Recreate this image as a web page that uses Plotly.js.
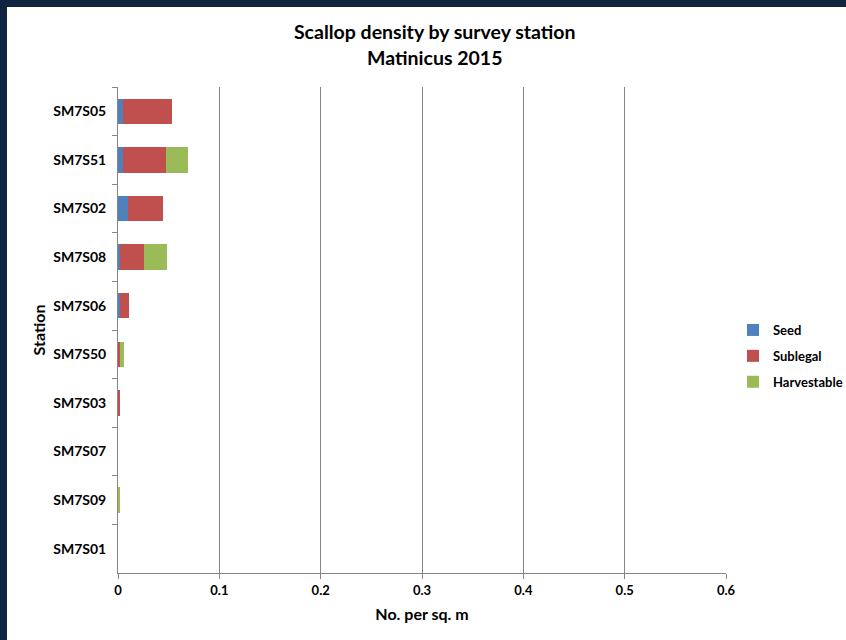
<!DOCTYPE html>
<html>
<head>
<meta charset="utf-8">
<script src="https://cdn.plot.ly/plotly-3.0.1.min.js"></script>
<style>
html,body{margin:0;padding:0;background:#10233f;width:846px;height:640px;overflow:hidden;position:relative;}
#chart{position:absolute;left:7px;top:7px;width:860px;height:633px;background:#fff;}
</style>
</head>
<body>
<div id="chart"></div>
<script>
const stations = ["SM7S05","SM7S51","SM7S02","SM7S08","SM7S06","SM7S50","SM7S03","SM7S07","SM7S09","SM7S01"];
const seed        = [0.0046, 0.0046, 0.0102, 0.0020, 0.0020, 0.0000, 0.0000, 0, 0.0000, 0];
const sublegal    = [0.0484, 0.0428, 0.0342, 0.0240, 0.0086, 0.0023, 0.0020, 0, 0.0000, 0];
const harvestable = [0.0000, 0.0217, 0.0000, 0.0220, 0.0000, 0.0033, 0.0000, 0, 0.0020, 0];
const xTicks = [0, 0.1, 0.2, 0.3, 0.4, 0.5, 0.6];

const fontFam = "Lato, 'Open Sans', sans-serif";
function tr(name, vals, color){
  return {type:"bar", orientation:"h", name:name, y:stations, x:vals,
    marker:{color:color}, legendgroup:name, hoverinfo:"x+name"};
}
const data = [
  tr("Seed", seed, "#4F81BD"),
  tr("Sublegal", sublegal, "#C0504D"),
  tr("Harvestable", harvestable, "#9BBB59")
];
const layout = {
  width:860, height:633,
  paper_bgcolor:"#ffffff", plot_bgcolor:"#ffffff",
  margin:{l:111, r:141, t:80, b:67},
  barmode:"stack", bargap:0.48,
  font:{family:fontFam, color:"#000", size:13},
  title:{text:"Scallop density by survey station<br>Matinicus 2015",
    font:{family:fontFam, size:19.5, color:"#000", weight:700},
    x:0.521, xanchor:"center", xref:"paper", y:0.949, yanchor:"top"},
  xaxis:{range:[0,0.6], tickvals:xTicks, ticktext:xTicks.map(String),
    showgrid:true, gridcolor:"#868686", gridwidth:1, zeroline:false,
    showline:true, linecolor:"#868686", ticks:"outside", ticklen:5, tickcolor:"#868686",
    tickfont:{size:13, weight:700}, fixedrange:true,
    title:{text:"No. per sq. m", font:{size:16, weight:700}, standoff:12}},
  yaxis:{autorange:"reversed", type:"category", showgrid:false, zeroline:false,
    showline:true, linecolor:"#868686", ticks:"outside", ticklen:5, tickcolor:"#868686",
    tickson:"boundaries", tickfont:{size:14, weight:700}, ticklabelstandoff:8,
    title:{text:"Station", font:{size:16, weight:700}, standoff:3}},
  legend:{x:1.0115, xanchor:"left", y:0.4465, yanchor:"middle", traceorder:"grouped",
    tracegroupgap:6, font:{size:13, weight:700}, itemwidth:30},
  showlegend:true
};
Plotly.newPlot("chart", data, layout, {displayModeBar:false, staticPlot:true});
</script>
</body>
</html>
